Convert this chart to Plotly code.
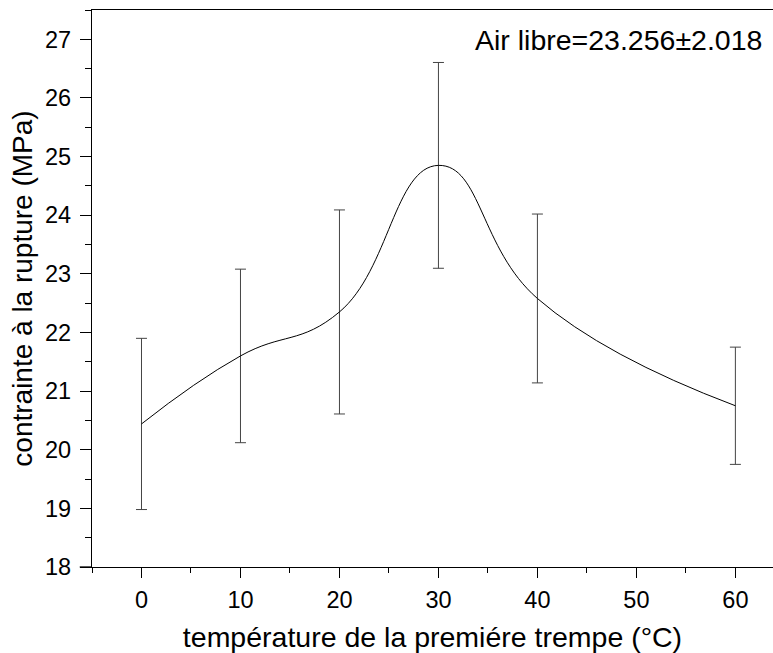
import plotly.graph_objects as go

# Data
temperatures = [0, 10, 20, 30, 40, 60]
stress = [20.44, 21.60, 22.35, 24.85, 22.58, 20.75]
stress_err = [1.46, 1.48, 1.74, 1.755, 1.44, 1.0]

x_title = "température de la premiére trempe (°C)"
y_title = "contrainte à la rupture (MPa)"
note = "Air libre=23.256±2.018"

FONT = "Liberation Sans, Arial, sans-serif"

fig = go.Figure()
fig.add_trace(go.Scatter(
    x=temperatures, y=stress,
    mode="lines",
    line=dict(color="black", width=1, shape="spline", smoothing=1.3),
    error_y=dict(type="data", array=stress_err, visible=True,
                 color="#444444", thickness=1, width=5.5),
    showlegend=False,
))

fig.update_layout(
    width=773, height=653,
    margin=dict(l=92, r=0, t=10, b=86, pad=0),
    paper_bgcolor="white", plot_bgcolor="white",
    font=dict(family=FONT, color="black"),
    xaxis=dict(
        range=[-5, 63.8],
        tickmode="linear", tick0=0, dtick=10,
        ticks="outside", ticklen=10, tickwidth=1.3, tickcolor="black",
        minor=dict(ticks="outside", ticklen=5, tickwidth=1.3, tickcolor="black",
                   tickmode="linear", tick0=-5, dtick=5, showgrid=False),
        showline=True, linecolor="black", linewidth=1.3, mirror=True,
        showgrid=False, zeroline=False,
        tickfont=dict(size=23.5, family=FONT),
        ticklabelstandoff=2,
        title=dict(text=x_title, font=dict(size=28.5, family=FONT), standoff=14),
    ),
    yaxis=dict(
        range=[18, 27.5],
        tickmode="linear", tick0=18, dtick=1,
        ticks="outside", ticklen=11, tickwidth=1.3, tickcolor="black",
        minor=dict(ticks="outside", ticklen=6, tickwidth=1.3, tickcolor="black",
                   tickmode="linear", tick0=18, dtick=0.5, showgrid=False),
        showline=True, linecolor="black", linewidth=1.3,
        showgrid=False, zeroline=False,
        tickfont=dict(size=23.5, family=FONT),
        ticklabelstandoff=4,
        title=dict(text=y_title, font=dict(size=28, family=FONT), standoff=4),
    ),
    annotations=[dict(
        text=note, xref="paper", yref="paper", x=1, y=0.947,
        xanchor="right", yanchor="middle", xshift=-9, showarrow=False,
        font=dict(size=28.5, family=FONT, color="black"),
    )],
    shapes=[dict(
        type="line", xref="paper", yref="paper",
        x0=-0.018, x1=0, y0=0, y1=0,
        line=dict(color="black", width=1.3),
    )],
)

fig.write_html("out.html")
